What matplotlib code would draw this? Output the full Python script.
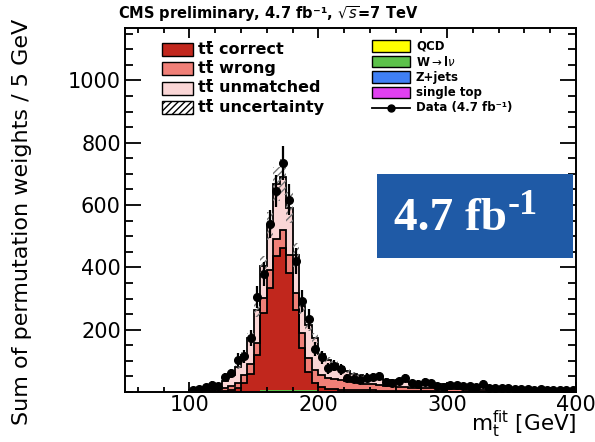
import numpy as np
import matplotlib
matplotlib.use("Agg")
import matplotlib.pyplot as plt
from matplotlib.patches import Rectangle
from matplotlib.lines import Line2D
from matplotlib.ticker import MultipleLocator

# 5 GeV bins from 100 to 400 GeV
edges = np.arange(100, 405, 5)
centers = edges[:-1] + 2.5

data = [5, 9, 15, 24, 20, 48, 60, 104, 114, 173, 304, 378, 539, 646, 735, 617, 420, 292, 234, 138,
        112, 76, 85, 73, 44, 42, 40, 46, 48, 51, 33, 29, 34, 44, 28, 27, 33, 28, 18, 17,
        23, 23, 20, 18, 16, 27, 14, 13, 12, 13, 11, 10, 10, 8, 9, 8, 6, 7, 5, 6]
data_err = [4, 6, 8, 10, 9, 14, 15, 20, 21, 26, 35, 39, 46, 51, 54, 50, 41, 34, 31, 23,
            21, 17, 18, 17, 13, 13, 13, 14, 14, 14, 11, 11, 12, 13, 11, 10, 11, 11, 8, 8,
            10, 10, 9, 8, 8, 10, 7, 7, 7, 7, 7, 6, 6, 6, 6, 6, 5, 5, 4, 5]

single_top = [0, 0, 0, 1, 1, 1, 2, 2, 3, 3, 3, 4, 4, 4, 4, 4, 4, 3, 3, 3,
              2, 2, 2, 2, 2, 1, 1, 1, 1, 1, 1, 1, 1, 1, 1, 1, 1, 1, 1, 1,
              0, 0, 0, 0, 0, 0, 0, 0, 0, 0, 0, 0, 0, 0, 0, 0, 0, 0, 0, 0]
zjets = [0] * 60
wjets = [0, 0, 0, 0, 0, 0, 0, 0, 1, 1, 1, 1, 1, 1, 1, 2, 2, 2, 2, 2,
         1, 1, 1, 1, 1, 1, 1, 1, 1, 1, 0, 0, 0, 0, 0, 0, 0, 0, 0, 0,
         0, 0, 0, 0, 0, 0, 0, 0, 0, 0, 0, 0, 0, 0, 0, 0, 0, 0, 0, 0]
qcd = [0] * 60
tt_correct = [0, 0, 1, 1, 2, 3, 5, 10, 25, 55, 114, 250, 330, 431, 458, 377, 256, 135, 60, 25,
              12, 8, 6, 5, 4, 4, 3, 3, 3, 2, 2, 2, 2, 2, 1, 1, 1, 1, 1, 1,
              1, 1, 1, 0, 0, 0, 0, 0, 0, 0, 0, 0, 0, 0, 0, 0, 0, 0, 0, 0]
tt_wrong = [2, 3, 4, 5, 6, 9, 13, 18, 25, 32, 40, 48, 55, 54, 56, 57, 55, 50, 45, 40,
            38, 35, 32, 30, 28, 26, 24, 22, 20, 18, 16, 15, 14, 13, 12, 12, 11, 10, 10, 9,
            9, 8, 8, 7, 7, 6, 6, 5, 5, 5, 4, 4, 4, 3, 3, 3, 3, 2, 2, 2]
tt_unmatched = [3, 6, 9, 12, 16, 23, 34, 50, 65, 83, 105, 102, 143, 177, 170, 151, 123, 85, 106, 103,
                69, 57, 50, 41, 32, 27, 25, 23, 22, 22, 21, 20, 19, 18, 18, 16, 16, 15, 14, 14,
                13, 12, 11, 12, 11, 11, 10, 10, 9, 8, 8, 8, 7, 7, 7, 6, 5, 6, 5, 5]
tt_unc = [1, 1, 2, 2, 3, 4, 5, 7, 10, 14, 22, 33, 45, 55, 58, 50, 38, 24, 19, 15,
          11, 9, 8, 7, 6, 5, 5, 4, 4, 4, 4, 3, 3, 3, 3, 3, 3, 2, 2, 2,
          2, 2, 2, 2, 2, 2, 2, 1, 1, 1, 1, 1, 1, 1, 1, 1, 1, 1, 1, 1]

components = [
    ("single top", single_top, "#e040f0"),
    ("Z+jets", zjets, "#3f7ff5"),
    (r"W$\rightarrow$l$\nu$", wjets, "#5cc24a"),
    ("QCD", qcd, "#ffff00"),
    ("correct", tt_correct, "#c1271d"),
    ("wrong", tt_wrong, "#f08078"),
    ("unmatched", tt_unmatched, "#fad6d6"),
]

W, H = 595, 442
fig = plt.figure(figsize=(W / 100, H / 100), dpi=100)
ax = fig.add_axes([125 / W, 1 - 392 / H, (576 - 125) / W, (392 - 28) / H])

# stacked histograms, drawn the ROOT way
bottom = np.zeros(len(centers))
for name, vals, col in components:
    top = bottom + np.array(vals, dtype=float)
    ax.stairs(top, edges, baseline=bottom, fill=True, color=col, lw=0)
    bottom = top
# outlines of the cumulative layers
cum = np.zeros(len(centers))
for name, vals, col in components:
    cum = cum + np.array(vals, dtype=float)
    if name in ("correct", "wrong", "unmatched"):
        ax.stairs(cum, edges, color="black", lw=1.3)
total = cum

unc = np.array(tt_unc, dtype=float)
ax.stairs(total + unc, edges, baseline=total - unc, fill=True, facecolor="none",
          edgecolor="#777777", lw=0, hatch="/////")

ax.errorbar(centers, data, yerr=data_err, fmt="o", color="black", ms=5.5,
            elinewidth=1.6, capsize=0)

ax.set_xlim(50, 400)
ax.set_ylim(0, 1168)
ax.set_xticks([100, 200, 300, 400])
ax.set_yticks([200, 400, 600, 800, 1000])
ax.xaxis.set_minor_locator(MultipleLocator(20))
ax.yaxis.set_minor_locator(MultipleLocator(50))
ax.tick_params(axis="both", which="both", direction="in", top=True, right=True,
               labelsize=15, width=1.3, colors="black")
ax.tick_params(axis="y", which="major", length=11.5, pad=3)
ax.tick_params(axis="y", which="minor", length=5.8)
ax.tick_params(axis="x", which="major", length=7, pad=2)
ax.tick_params(axis="x", which="minor", length=3.6)
for s in ax.spines.values():
    s.set_linewidth(1.4)


def fx(x):
    return x / W


def fy(y):
    return 1 - y / H


fig.text(fx(22), fy(222), "Sum of permutation weights / 5 GeV", rotation=90,
         ha="center", va="center", fontsize=16)
fig.text(fx(577), fy(440.5), r"m$_{\mathrm{t}}^{\mathrm{fit}}$ [GeV]", ha="right",
         va="bottom", fontsize=15.5)
fig.text(fx(118), fy(14), "CMS preliminary, 4.7 fb\u207b\u00b9, $\\sqrt{s}$=7 TeV",
         ha="left", va="center", fontsize=10.5, fontweight="bold")

# legend, left column
left_rows = [("correct", "#c1271d", 49), ("wrong", "#f08078", 68),
             ("unmatched", "#fad6d6", 88), ("uncertainty", None, 107)]
for lab, col, yc in left_rows:
    if col is None:
        r = Rectangle((fx(162), fy(yc + 6.5)), fx(31), 13 / H, transform=fig.transFigure,
                      facecolor="white", edgecolor="black", lw=1.0, hatch="/////")
    else:
        r = Rectangle((fx(162), fy(yc + 6.5)), fx(31), 13 / H, transform=fig.transFigure,
                      facecolor=col, edgecolor="black", lw=1.0)
    fig.add_artist(r)
    fig.text(fx(198), fy(yc), "tt\u0304 " + lab, ha="left", va="center",
             fontsize=11.5, fontweight="bold")

# legend, right column
right_rows = [("QCD", "#ffff00", 46), (r"W$\rightarrow$l$\nu$", "#5cc24a", 61.5),
              ("Z+jets", "#3f7ff5", 77), ("single top", "#e040f0", 92.5)]
for lab, col, yc in right_rows:
    r = Rectangle((fx(372), fy(yc + 5.5)), fx(38), 11 / H, transform=fig.transFigure,
                  facecolor=col, edgecolor="black", lw=1.0)
    fig.add_artist(r)
    fig.text(fx(416), fy(yc), lab, ha="left", va="center", fontsize=8.5, fontweight="bold")
fig.add_artist(Line2D([fx(372), fx(410)], [fy(108), fy(108)], transform=fig.transFigure,
                      color="black", lw=1.3))
fig.add_artist(Line2D([fx(391)], [fy(108)], transform=fig.transFigure, color="black",
                      marker="o", ms=5))
fig.text(fx(416), fy(108), "Data (4.7 fb\u207b\u00b9)", ha="left", va="center",
         fontsize=8.5, fontweight="bold")

# luminosity box
fig.add_artist(Rectangle((fx(377), fy(258)), fx(573 - 377), (258 - 174) / H,
                         transform=fig.transFigure, facecolor="#1f5aa6", edgecolor="none"))
fig.text(fx(507), fy(230), "4.7 fb", ha="right", va="baseline", fontsize=34,
         color="white", family="Liberation Serif", fontweight="bold")
fig.text(fx(508), fy(214), "-1", ha="left", va="baseline", fontsize=26,
         color="white", family="Liberation Serif", fontweight="bold")

fig.savefig("out.png", dpi=100)
